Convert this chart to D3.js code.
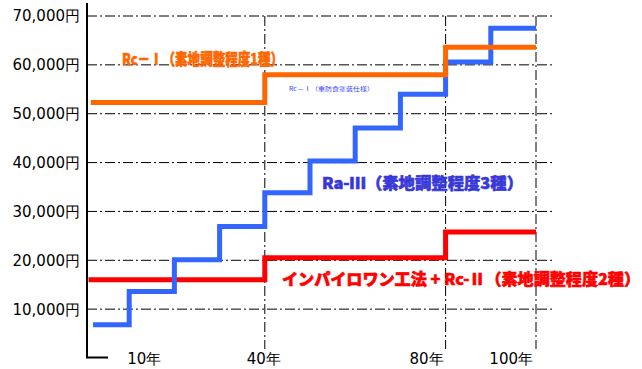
<!DOCTYPE html>
<html>
<head>
<meta charset="utf-8">
<script src="https://cdn.jsdelivr.net/npm/d3@7"></script>
<style>
  html, body { margin: 0; padding: 0; background: #fff; }
  svg { display: block; }
</style>
</head>
<body>
<svg id="chart" width="642" height="369"></svg>
<script>
// Cumulative cost (円) over elapsed years for three coating specs.
const yTicks = [10000, 20000, 30000, 40000, 50000, 60000, 70000];
const xTickYears = [10, 40, 80, 100];
const xTickLabels = ["10年", "40年", "80年", "100年"];
const xGridYears = [40, 80, 100];

// Step series: value holds from each year until the next one.
const redYears    = [1, 40, 80, 100];
const redValues   = [16000, 20500, 25800, 25800];
const orangeYears  = [1.5, 40, 80, 100];
const orangeValues = [52300, 58000, 63600, 63600];
const blueYears  = [2, 10, 20, 30, 40, 50, 60, 70, 80, 90, 100];
const blueValues = [6800, 13600, 20100, 26900, 33800, 40300, 47100, 54000, 60600, 67500, 67500];

const labelOrange = "Rc－Ⅰ（素地調整程度1種）";
const labelOrangeSub = "Rc－Ⅰ（重防食塗装仕様）";
const labelBlue = "Ra-Ⅲ（素地調整程度3種）";
const labelRed = "インパイロワン工法 + Rc-Ⅱ（素地調整程度2種）";

const svg = d3.select("#chart");
const x = d3.scaleLinear().domain([0, 100]).range([84, 536]);
const y = d3.scaleLinear().domain([0, 70000]).range([358, 16]);

const axisX0 = 87, gridRight = 555;
const dash = "10,3,2,3";
const fmt = d3.format(",");

// horizontal dash-dot grid
svg.append("g").selectAll("line").data(yTicks).join("line")
  .attr("x1", axisX0).attr("x2", gridRight)
  .attr("y1", d => y(d)).attr("y2", d => y(d))
  .attr("stroke", "#000").attr("stroke-width", 1)
  .attr("stroke-dasharray", dash);

// vertical dash-dot grid
svg.append("g").selectAll("line").data(xGridYears).join("line")
  .attr("x1", d => x(d)).attr("x2", d => x(d))
  .attr("y1", y(70000)).attr("y2", 349)
  .attr("stroke", "#000").attr("stroke-width", 1)
  .attr("stroke-dasharray", dash);

// y axis with the short foot at the bottom
svg.append("path")
  .attr("d", `M${axisX0},3 V357.5 H108`)
  .attr("fill", "none").attr("stroke", "#000").attr("stroke-width", 2);

// y tick labels
svg.append("g").selectAll("text").data(yTicks).join("text")
  .attr("x", 80).attr("y", d => y(d)).attr("dy", "0.36em")
  .attr("text-anchor", "end")
  .attr("font-family", "DejaVu Sans").attr("font-size", 15).attr("fill", "#000")
  .text(d => fmt(d) + "円");

// x tick labels
const xAnchor = ["start", "middle", "end", "end"];
const xShift = [-2, -1, -2, -3];
svg.append("g").selectAll("text").data(xTickYears).join("text")
  .attr("x", (d, i) => x(d) + xShift[i]).attr("y", 364)
  .attr("text-anchor", (d, i) => xAnchor[i])
  .attr("font-family", "DejaVu Sans").attr("font-size", 15).attr("fill", "#000")
  .text((d, i) => xTickLabels[i]);

// step lines
const step = d3.line().x(d => x(d[0])).y(d => y(d[1])).curve(d3.curveStepAfter);
function drawSeries(years, values, color) {
  svg.append("path")
    .datum(years.map((yr, i) => [yr, values[i]]))
    .attr("d", step)
    .attr("fill", "none").attr("stroke", color).attr("stroke-width", 5)
    .attr("stroke-linejoin", "miter");
}
drawSeries(redYears, redValues, "#ff0000");
drawSeries(blueYears, blueValues, "#3366ff");
drawSeries(orangeYears, orangeValues, "#ff6600");

// series labels
const labelFont = "'Noto Sans CJK JP', 'Noto Sans', sans-serif";
function label(txt, lx, ly, len, color, size, weight, thick) {
  svg.append("text")
    .attr("x", lx).attr("y", ly)
    .attr("font-family", labelFont).attr("font-size", size).attr("font-weight", weight)
    .attr("fill", color)
    .attr("stroke", thick ? color : "none").attr("stroke-width", thick)
    .attr("textLength", len).attr("lengthAdjust", "spacingAndGlyphs")
    .text(txt);
}
label(labelOrange, 122, 65, 161, "#ff6600", 16, 900, 0.6);
label(labelOrangeSub, 289, 91, 85, "#3344ff", 6, 400, 0);
label(labelBlue, 322, 189, 201, "#3838d8", 16, 900, 0.6);
label(labelRed, 282, 285, 358, "#ff0000", 16, 900, 0.6);
</script>
</body>
</html>
